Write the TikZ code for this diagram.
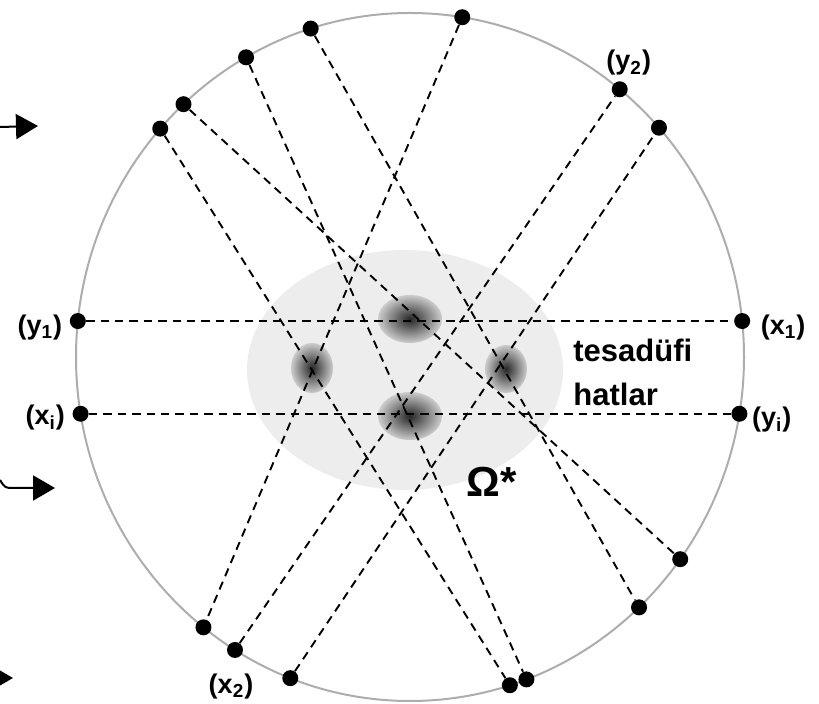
\documentclass[tikz,border=0pt]{standalone}
\usepackage{fontspec}
\setmainfont{Liberation Sans}
\usetikzlibrary{positioning,arrows.meta,calc}

\begin{document}
\begin{tikzpicture}[x=0.5pt, y=-0.5pt,
    dot/.style={circle, fill=black, inner sep=0pt, minimum size=8pt},
    chord/.style={line width=0.95pt, dash pattern=on 4.2pt off 3pt},
    rim/.style={line width=1pt, black!32},
    tag/.style={inner sep=0pt, font=\fontsize{13.5}{16}\selectfont\bfseries},
    note/.style={inner sep=0pt, align=left, font=\fontsize{15.5}{22}\selectfont\bfseries},
    spot/.style={inner color=black!85, outer color=black!20},
    inarrow/.style={line width=1pt, -{Triangle[length=11pt, width=12.5pt]}},
]
  \useasboundingbox (0,0) rectangle (819,704);
  \coordinate (c) at (410,357);

  % random region and the dense spots
  \fill[black!7] (405,370) ellipse [x radius=158, y radius=120];
  \shade[spot] (410,319) ellipse [x radius=32, y radius=24];
  \shade[spot] (410,416) ellipse [x radius=32, y radius=24];
  \shade[spot] (312,368) ellipse [x radius=21, y radius=25];
  \shade[spot] (506,369) ellipse [x radius=21, y radius=24];

  % ring
  \draw[rim] (c) ellipse [x radius=334, y radius=344];

  % points on the ring
  \node[dot] (p1) at ($(c)+(-81:334 and 344)$) {};
  \node[dot] (p2) at ($(c)+(-107.3:334 and 344)$) {};
  \node[dot] (p3) at ($(c)+(-119.4:334 and 344)$) {};
  \node[dot] (p4) at ($(c)+(-132.7:334 and 344)$) {};
  \node[dot] (p5) at ($(c)+(-138.4:334 and 344)$) {};
  \node[dot] (y2) at ($(c)+(-51.1:334 and 344)$) {};
  \node[dot] (p7) at ($(c)+(-41.8:334 and 344)$) {};
  \node[dot] (y1) at ($(c)+(-174:334 and 344)$) {};
  \node[dot] (x1) at ($(c)+(-6:334 and 344)$) {};
  \node[dot] (xi) at ($(c)+(170.5:334 and 344)$) {};
  \node[dot] (yi) at ($(c)+(9.5:334 and 344)$) {};
  \node[dot] (p12) at ($(c)+(36:334 and 344)$) {};
  \node[dot] (p13) at ($(c)+(46.7:334 and 344)$) {};
  \node[dot] (p14) at ($(c)+(128.2:334 and 344)$) {};
  \node[dot] (x2) at ($(c)+(121.6:334 and 344)$) {};
  \node[dot] (p16) at ($(c)+(111:334 and 344)$) {};
  \node[dot] (p17) at ($(c)+(72.6:334 and 344)$) {};
  \node[dot] (p18) at ($(c)+(69.6:334 and 344)$) {};

  % random lines
  \draw[chord] (y1) -- (x1);
  \draw[chord] (xi) -- (yi);
  \draw[chord] (p1) -- (p14);
  \draw[chord] (x2) -- (y2);
  \draw[chord] (p16) -- (p7);
  \draw[chord] (p4) -- (p12);
  \draw[chord] (p5) -- (p17);
  \draw[chord] (p3) -- (p18);
  \draw[chord] (p2) -- (p13);

  % labels
  \node[tag, left=3.5pt of y1, yshift=-3pt] (ly1) {(y\textsubscript{1})};
  \node[tag, left=3.5pt of xi, yshift=-2pt] (lxi) {(x\textsubscript{i})};
  \node[tag, right=5pt of x1, yshift=-3pt] (lx1) {(x\textsubscript{1})};
  \node[tag, right=2pt of yi, yshift=-3pt] (lyi) {(y\textsubscript{i})};
  \node[tag, above=2.5pt of y2, xshift=4.5pt] (ly2) {(y\textsubscript{2})};
  \node[tag, below=7.5pt of x2, xshift=-2pt] (lx2) {(x\textsubscript{2})};

  \node[note, anchor=west] (rand) at (573,372) {tesadüfi\\hatlar};
  \node[inner sep=0pt, font=\fontsize{21}{24}\selectfont\bfseries] (om) at (492,482) {Ω*};

  % incoming arrows at the left edge
  \coordinate (a1) at (0,127);
  \coordinate (b1) at (38,126);
  \draw[inarrow] (a1) -- (b1);
  \coordinate (a2) at (0,480);
  \coordinate (b2) at (55,488);
  \draw[inarrow] (a2) .. controls (5,488) .. (14,488) -- (b2);
  \coordinate (a3) at (-20,678);
  \coordinate (b3) at (13,678);
  \draw[inarrow] (a3) -- (b3);
\end{tikzpicture}
\end{document}
